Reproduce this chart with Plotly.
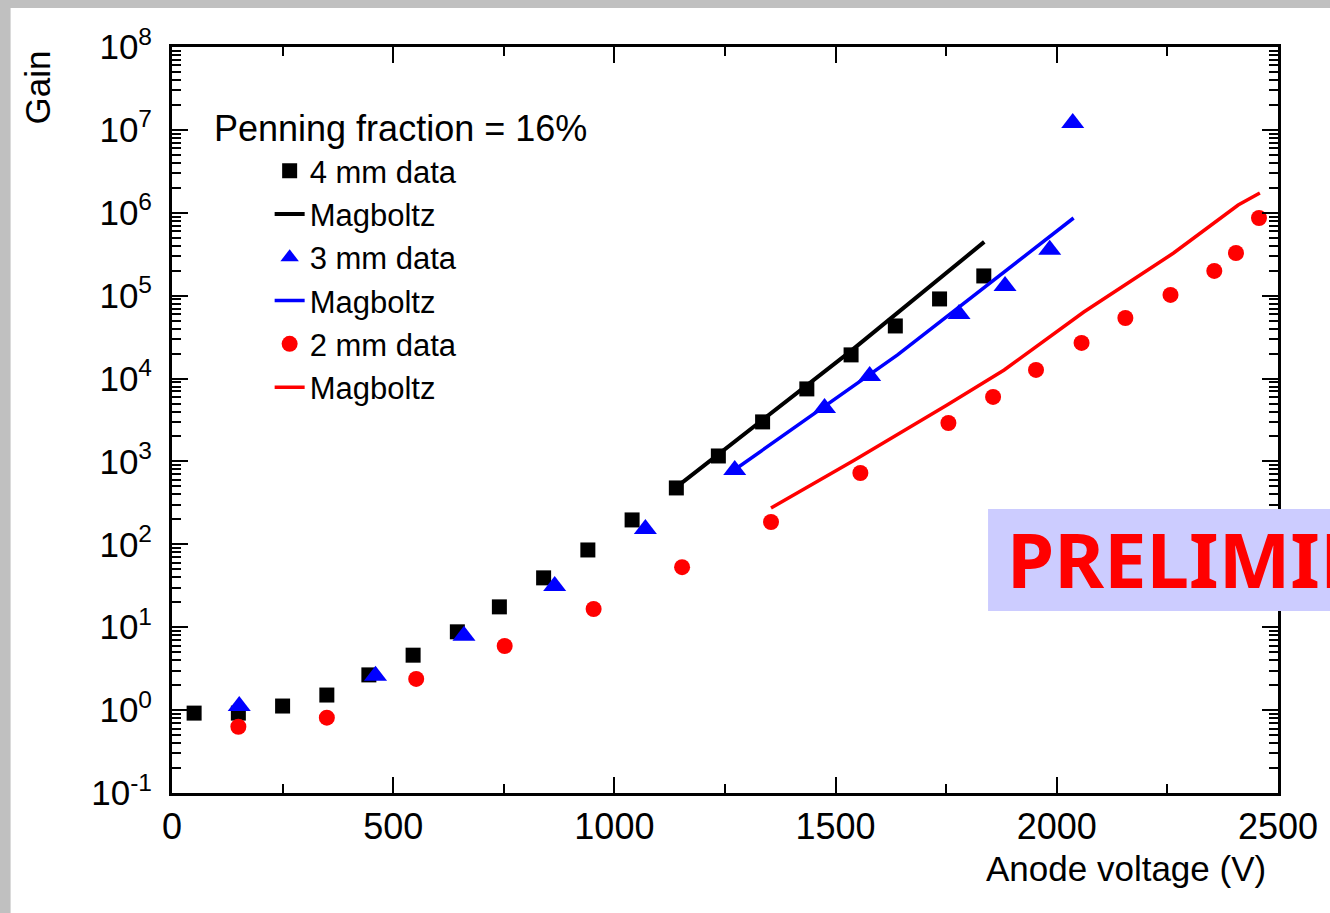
import plotly.graph_objects as go

# ---- data ----
v_4mm = [50, 150, 250, 350, 445, 545, 645, 740, 840, 940, 1040, 1140, 1235, 1335, 1435, 1535, 1635, 1735, 1835]
g_4mm = [0.92, 0.92, 1.12, 1.52, 2.66, 4.6, 8.8, 17.6, 39.4, 85.5, 197, 479, 1164, 3000, 7500, 19300, 43100, 91300, 173000]

v_4mm_mag = [1140, 1532, 1836]
g_4mm_mag = [490, 21000, 445000]

v_3mm = [152, 460, 660, 865, 1070, 1272, 1475, 1577, 1779, 1883, 1984, 2036]
g_3mm = [1.12, 2.6, 7.9, 31.5, 153, 790, 4400, 10700, 60000, 131000, 357000, 1.21e7]

v_3mm_mag = [1262, 1640, 2038]
g_3mm_mag = [730, 19300, 865000]

v_2mm = [150, 350, 552, 752, 953, 1153, 1354, 1556, 1755, 1856, 1953, 2056, 2155, 2257, 2356, 2405, 2457]
g_2mm = [0.63, 0.81, 2.38, 5.94, 16.6, 53, 186, 726, 2910, 6000, 12700, 26900, 53800, 102000, 199000, 327000, 865000]

v_2mm_mag = [1354, 1543, 1752, 1881, 2061, 2264, 2410, 2459]
g_2mm_mag = [275, 1040, 4800, 12700, 63500, 327000, 1.24e6, 1.73e6]

y_tickvals = [1e-1, 1e0, 1e1, 1e2, 1e3, 1e4, 1e5, 1e6, 1e7, 1e8]
y_ticktext = ["10<sup>-1</sup>", "10<sup>0</sup>", "10<sup>1</sup>", "10<sup>2</sup>", "10<sup>3</sup>",
              "10<sup>4</sup>", "10<sup>5</sup>", "10<sup>6</sup>", "10<sup>7</sup>", "10<sup>8</sup>"]

FONT = "Liberation Sans, Arial, sans-serif"

fig = go.Figure()
fig.add_trace(go.Scatter(x=v_4mm, y=g_4mm, mode="markers", name="4 mm data",
                         marker=dict(symbol="square", size=15, color="black")))
fig.add_trace(go.Scatter(x=v_4mm_mag, y=g_4mm_mag, mode="lines", name="Magboltz",
                         line=dict(color="black", width=4)))
fig.add_trace(go.Scatter(x=v_3mm, y=g_3mm, mode="markers", name="3 mm data",
                         marker=dict(symbol="triangle-up", size=20, color="#0000ff")))
fig.add_trace(go.Scatter(x=v_3mm_mag, y=g_3mm_mag, mode="lines", name="Magboltz",
                         line=dict(color="#0000ff", width=3.5)))
fig.add_trace(go.Scatter(x=v_2mm, y=g_2mm, mode="markers", name="2 mm data",
                         marker=dict(symbol="circle", size=16, color="#ff0000")))
fig.add_trace(go.Scatter(x=v_2mm_mag, y=g_2mm_mag, mode="lines", name="Magboltz",
                         line=dict(color="#ff0000", width=3.5)))

L, R, T, B = 172, 48, 47, 120
W, H = 1330, 913
pw, ph = W - L - R, H - T - B

def px(x):
    return (x - L) / pw

def py(y):
    return (H - B - y) / ph

fig.update_layout(
    width=W, height=H,
    margin=dict(l=L, r=R, t=T, b=B, pad=0),
    paper_bgcolor="#c0c0c0",
    plot_bgcolor="white",
    font=dict(family=FONT, color="black", size=34),
    showlegend=True,
    legend=dict(x=px(270), y=py(144), xanchor="left", yanchor="top",
                bgcolor="rgba(0,0,0,0)", font=dict(size=31, family=FONT, color="black"),
                itemsizing="trace", tracegroupgap=0),
    xaxis=dict(range=[0, 2500], showline=True, linewidth=3, linecolor="black", mirror="allticks",
               ticks="inside", ticklen=16, tickwidth=2, tickcolor="black", dtick=500, tick0=0,
               tickfont=dict(size=36, family=FONT), showgrid=False, zeroline=False,
               ticklabelstandoff=0,
               minor=dict(ticks="inside", ticklen=9, tickwidth=2, tickcolor="black", dtick=250, showgrid=False)),
    yaxis=dict(type="log", range=[-1, 8], showline=True, linewidth=3, linecolor="black", mirror="allticks",
               ticks="inside", ticklen=16, tickwidth=2, tickcolor="black",
               tickvals=y_tickvals, ticktext=y_ticktext,
               tickfont=dict(size=35, family=FONT), showgrid=False, zeroline=False,
               ticklabelstandoff=10,
               minor=dict(ticks="inside", ticklen=9, tickwidth=2, tickcolor="black", dtick="D1", showgrid=False)),
    shapes=[
        dict(type="rect", xref="paper", yref="paper", x0=px(10), x1=px(1400), y0=py(1000), y1=py(8),
             fillcolor="white", line=dict(width=0), layer="below"),
        dict(type="rect", xref="paper", yref="paper", x0=px(991), x1=px(1400), y0=py(611), y1=py(509),
             fillcolor="#ccccff", line=dict(width=0), layer="above"),
    ],
    annotations=[
        dict(text="Penning fraction = 16%", xref="paper", yref="paper", x=px(212), y=py(129),
             xanchor="left", yanchor="middle", showarrow=False, font=dict(size=36, family=FONT)),
        dict(text="Anode voltage (V)", xref="paper", yref="paper", x=px(1272), y=py(868),
             xanchor="right", yanchor="middle", showarrow=False, font=dict(size=35, family=FONT)),
        dict(text="Gain", xref="paper", yref="paper", x=px(37), y=py(87), textangle=-90,
             xanchor="center", yanchor="middle", showarrow=False, font=dict(size=35, family=FONT)),
        dict(text="PRELIMINARY", xref="paper", yref="paper", x=px(1008), y=py(558),
             xanchor="left", yanchor="middle", showarrow=False,
             font=dict(size=76, family="Noto Sans", color="#ff0000", weight="bold")),
    ],
)

fig.write_html("out.html")
